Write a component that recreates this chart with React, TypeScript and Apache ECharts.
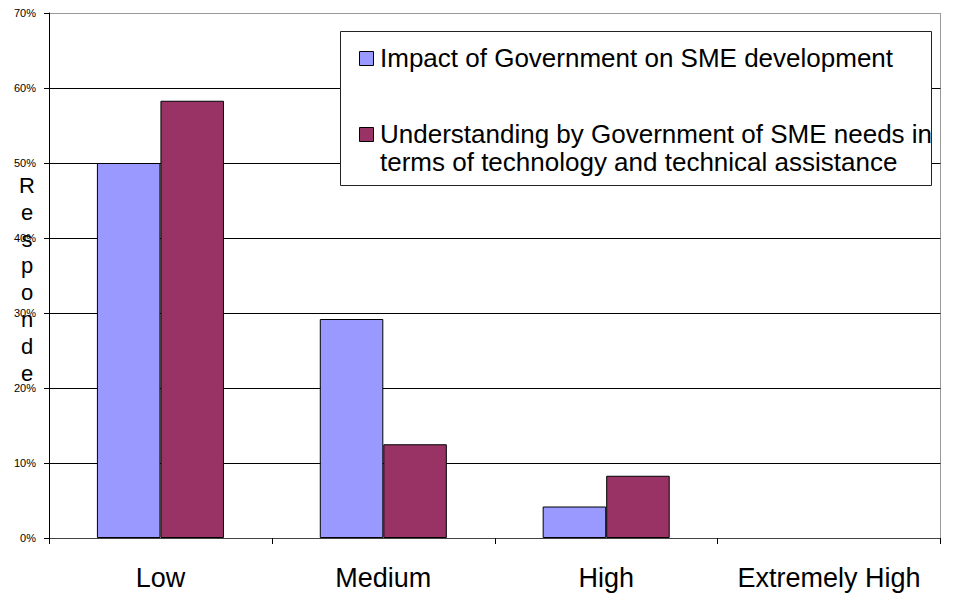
import React, { useEffect, useRef } from "react";
import * as echarts from "echarts";

const categories = ["Low", "Medium", "High", "Extremely High"];
const seriesNames = [
  "Impact of Government on SME development",
  "Understanding by Government of SME needs in terms of technology and technical assistance",
];
const impactValues = [50, 29.2, 4.2, 0];
const understandingValues = [58.3, 12.5, 8.3, 0];
const seriesColors = ["#9999FF", "#993366"];
const yAxisTitle = "Responde";

const FONT = "'Liberation Sans', Arial, Helvetica, sans-serif";

const toBarData = (vals: number[]) =>
  vals.map((v) => (v === 0 ? { value: v, itemStyle: { borderWidth: 0 } } : v));

export default function App() {
  const ref = useRef<HTMLDivElement>(null);

  useEffect(() => {
    if (!ref.current) return;
    const chart = echarts.init(ref.current, null, { renderer: "svg" });

    const legendLabel2 = seriesNames[1].replace(" terms", "\nterms");

    chart.setOption({
      animation: false,
      backgroundColor: "#ffffff",
      textStyle: { fontFamily: FONT },
      grid: { left: 49, top: 13, width: 891.5, height: 525, containLabel: false },
      xAxis: {
        type: "category",
        data: categories,
        axisLine: { show: true, lineStyle: { color: "#444", width: 1 } },
        axisTick: { show: true, length: 6, interval: 0, lineStyle: { color: "#000" } },
        axisLabel: { fontSize: 27, color: "#000", margin: 26, interval: 0, fontFamily: FONT },
        splitLine: { show: false },
      },
      yAxis: {
        type: "value",
        min: 0,
        max: 70,
        interval: 10,
        axisLine: { show: true, lineStyle: { color: "#000", width: 1 } },
        axisTick: { show: true, length: 5, lineStyle: { color: "#000" } },
        axisLabel: {
          formatter: "{value}%",
          fontSize: 11,
          color: "#000",
          margin: 13,
          fontFamily: FONT,
        },
        splitLine: {
          show: true,
          lineStyle: {
            color: ["#444", "#000", "#000", "#000", "#000", "#000", "#000", "#999"],
            width: 1,
          },
        },
      },
      series: [
        {
          name: seriesNames[0],
          type: "bar",
          data: toBarData(impactValues),
          barGap: "0%",
          barCategoryGap: "43%",
          itemStyle: { color: seriesColors[0], borderColor: "#000", borderWidth: 1 },
        },
        {
          name: seriesNames[1],
          type: "bar",
          data: toBarData(understandingValues),
          barGap: "0%",
          barCategoryGap: "43%",
          itemStyle: { color: seriesColors[1], borderColor: "#000", borderWidth: 1 },
        },
      ],
      graphic: [
        {
          type: "line",
          shape: { x1: 940.5, y1: 13, x2: 940.5, y2: 538 },
          style: { stroke: "#999", lineWidth: 1 },
          silent: true,
        },
        {
          type: "text",
          x: 27,
          y: 172,
          style: {
            text: yAxisTitle.split("").join("\n"),
            fontSize: 22,
            lineHeight: 26.8,
            fill: "#000",
            fontFamily: FONT,
            textAlign: "center",
            textVerticalAlign: "top",
          },
          silent: true,
        },
        {
          type: "rect",
          shape: { x: 340.5, y: 31.5, width: 591, height: 154 },
          style: { fill: "#fff", stroke: "#222", lineWidth: 1 },
          silent: true,
          z: 100,
        },
        {
          type: "rect",
          shape: { x: 359.5, y: 51.5, width: 14, height: 14 },
          style: { fill: seriesColors[0], stroke: "#000", lineWidth: 1 },
          silent: true,
          z: 101,
        },
        {
          type: "rect",
          shape: { x: 359.5, y: 127.5, width: 14, height: 14 },
          style: { fill: seriesColors[1], stroke: "#000", lineWidth: 1 },
          silent: true,
          z: 101,
        },
        {
          type: "text",
          x: 380,
          y: 57.7,
          style: {
            text: seriesNames[0],
            fontSize: 26,
            fill: "#000",
            fontFamily: FONT,
            textAlign: "left",
            textVerticalAlign: "middle",
          },
          silent: true,
          z: 101,
        },
        {
          type: "text",
          x: 380,
          y: 120.5,
          style: {
            text: legendLabel2,
            fontSize: 26,
            lineHeight: 27.5,
            fill: "#000",
            fontFamily: FONT,
            textAlign: "left",
            textVerticalAlign: "top",
          },
          silent: true,
          z: 101,
        },
      ],
    });

    return () => {
      chart.dispose();
    };
  }, []);

  return (
    <div
      ref={ref}
      style={{ position: "fixed", left: 0, top: 0, width: 960, height: 595 }}
    />
  );
}
